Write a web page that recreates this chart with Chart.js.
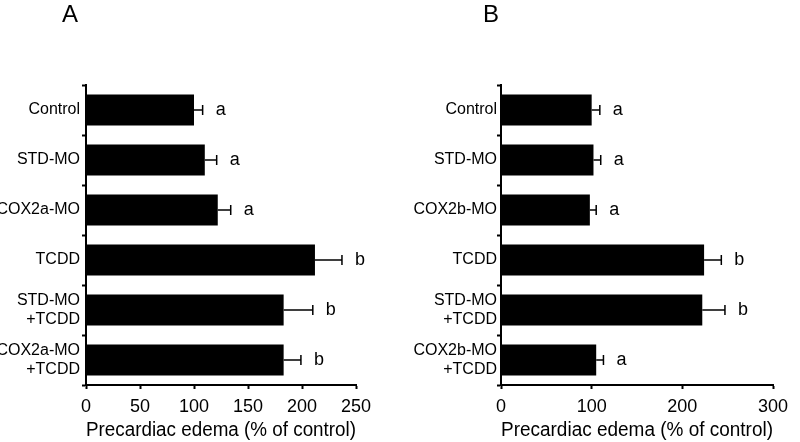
<!DOCTYPE html>
<html>
<head>
<meta charset="utf-8">
<script src="https://cdn.jsdelivr.net/npm/chart.js@4"></script>
<style>
  body { margin: 0; background: #fff; }
  #wrap { position: relative; width: 800px; height: 442px; }
  .panel { position: absolute; top: 0; width: 400px; height: 442px; }
  .tag { position: absolute; top: 0; font: 24px "Liberation Sans", Arial, sans-serif; color: #000; }
</style>
</head>
<body>
<div id="wrap">
  <div class="panel" style="left:0"><canvas id="chart-a"></canvas></div>
  <div class="panel" style="left:400px"><canvas id="chart-b"></canvas></div>
  <div class="tag" style="left:62px">A</div>
  <div class="tag" style="left:483px">B</div>
</div>
<script>
let categoriesA = ["Control", "STD-MO", "COX2a-MO", "TCDD", ["STD-MO", "+TCDD"], ["COX2a-MO", "+TCDD"]];
let meansA = [100, 110, 122, 212, 183, 183];
let errorsA = [8, 11, 12, 25, 27, 16];
let lettersA = ["a", "a", "a", "b", "b", "b"];
let ticksA = [0, 50, 100, 150, 200, 250];

let categoriesB = ["Control", "STD-MO", "COX2b-MO", "TCDD", ["STD-MO", "+TCDD"], ["COX2b-MO", "+TCDD"]];
let meansB = [100, 102, 98, 224, 222, 105];
let errorsB = [9, 8, 7, 19, 25, 8];
let lettersB = ["a", "a", "a", "b", "b", "a"];
let ticksB = [0, 100, 200, 300];

let fontFamily = "'Liberation Sans', Arial, sans-serif";

// error bars (positive side only) and the significance letters
let errorBarPlugin = {
	id: "errorBars",
	afterDatasetsDraw(chart, args, opts) {
		let ctx = chart.ctx;
		let xScale = chart.scales.x;
		let bars = chart.getDatasetMeta(0).data;
		ctx.save();
		ctx.strokeStyle = "#000";
		ctx.lineWidth = 1.5;
		ctx.fillStyle = "#000";
		ctx.font = "18px " + fontFamily;
		ctx.textBaseline = "middle";
		bars.forEach(function (bar, i) {
			let end = xScale.getPixelForValue(opts.means[i] + opts.errors[i]);
			ctx.beginPath();
			ctx.moveTo(bar.x, bar.y);
			ctx.lineTo(end, bar.y);
			ctx.moveTo(end, bar.y - 5);
			ctx.lineTo(end, bar.y + 5);
			ctx.stroke();
			ctx.fillText(opts.letters[i], end + 13, bar.y);
		});
		ctx.restore();
	}
};

function createPanel(canvasId, categories, means, errors, letters, tickValues, yWidth, padRight, labelPad) {
	let canvas = document.getElementById(canvasId);
	return new Chart(canvas, {
		type: "bar",
		data: {
			labels: categories,
			datasets: [{
				data: means,
				backgroundColor: "#000",
				borderWidth: 0,
				categoryPercentage: 1,
				barPercentage: 0.62
			}]
		},
		options: {
			indexAxis: "y",
			responsive: true,
			maintainAspectRatio: false,
			animation: false,
			layout: { padding: { top: 85, right: padRight, bottom: 0, left: 0 } },
			plugins: {
				legend: { display: false },
				tooltip: { enabled: false },
				errorBars: { means: means, errors: errors, letters: letters }
			},
			scales: {
				x: {
					min: tickValues[0],
					max: tickValues[tickValues.length - 1],
					afterBuildTicks(scale) { scale.ticks = tickValues.map(v => ({ value: v })); },
					afterFit(scale) { scale.height = 57; },
					border: { color: "#000", width: 2 },
					grid: { drawOnChartArea: false, drawTicks: true, tickLength: 4, tickWidth: 2, tickColor: "#000" },
					ticks: { color: "#000", padding: 7, font: { family: fontFamily, size: 18 } },
					title: {
						display: true,
						text: "Precardiac edema (% of control)",
						align: "start",
						color: "#000",
						padding: 0,
						font: { family: fontFamily, size: 20 }
					}
				},
				y: {
					afterFit(scale) { scale.width = yWidth; },
					border: { color: "#000", width: 2 },
					grid: { offset: true, drawOnChartArea: false, drawTicks: true, tickLength: 4, tickWidth: 2, tickColor: "#000" },
					ticks: { color: "#000", padding: labelPad, font: { family: fontFamily, size: 16, lineHeight: 1.15 } }
				}
			}
		},
		plugins: [errorBarPlugin]
	});
}

createPanel("chart-a", categoriesA, meansA, errorsA, lettersA, ticksA, 86, 44, 2);
createPanel("chart-b", categoriesB, meansB, errorsB, lettersB, ticksB, 101, 27, 0);
</script>
</body>
</html>
